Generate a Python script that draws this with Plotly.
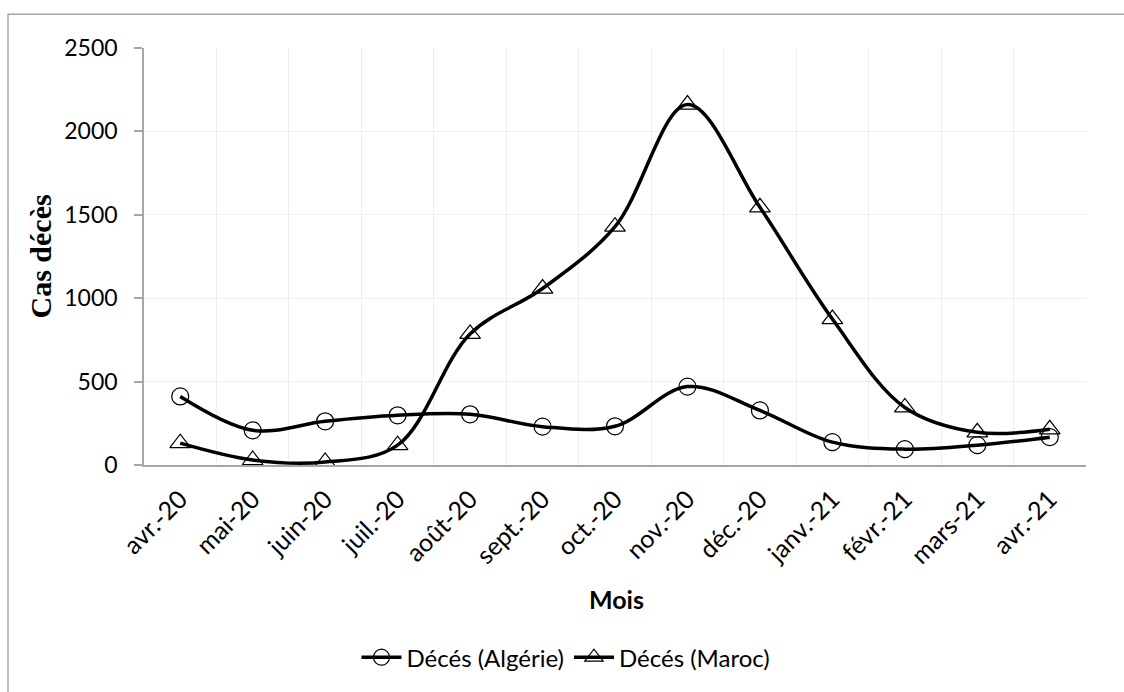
import plotly.graph_objects as go

# Monthly deaths, April 2020 - April 2021
mois = ["avr.-20", "mai-20", "juin-20", "juil.-20", "août-20", "sept.-20", "oct.-20",
        "nov.-20", "déc.-20", "janv.-21", "févr.-21", "mars-21", "avr.-21"]
deces_algerie = [411, 208, 262, 298, 304, 230, 232, 470, 327, 137, 95, 119, 167]
deces_maroc = [131, 30, 18, 119, 786, 1058, 1429, 2161, 1545, 875, 345, 196, 214]
y_ticks = [0, 500, 1000, 1500, 2000, 2500]

W, H = 1124, 692
L, R, T, B = 144, 38, 48, 224
pw, ph = W - L - R, H - T - B

def px_x(p):
    return (p - L) / pw

def px_y(p):
    return (H - B - p) / ph

pos = list(range(len(mois)))
font_sans = "Lato, 'Liberation Sans', sans-serif"

fig = go.Figure()
fig.add_trace(go.Scatter(
    x=pos, y=deces_algerie, name="Décés (Algérie)", mode="lines+markers",
    line=dict(color="black", width=3.5, shape="spline", smoothing=1.0),
    marker=dict(symbol="circle-open", size=17, color="black", line=dict(width=1.2, color="black")),
))
fig.add_trace(go.Scatter(
    x=pos, y=deces_maroc, name="Décés (Maroc)", mode="lines+markers",
    line=dict(color="black", width=3.5, shape="spline", smoothing=1.0),
    marker=dict(symbol="triangle-up-open", size=18, color="black", line=dict(width=1.2, color="black")),
))

fig.update_layout(
    width=W, height=H,
    margin=dict(l=L, r=R, t=T, b=B),
    paper_bgcolor="white", plot_bgcolor="white",
    font=dict(family=font_sans, size=22, color="black"),
    showlegend=True,
    legend=dict(orientation="h", x=px_x(566), y=px_y(662), xanchor="center", yanchor="middle",
                font=dict(family=font_sans, size=24, color="black"), itemwidth=40),
    xaxis=dict(
        range=[-0.5, len(mois) - 0.5], tickmode="array", tickvals=pos, ticktext=mois,
        tickangle=-45, showgrid=False, zeroline=False, ticks="",
        showline=True, linecolor="#a6a6a6", linewidth=1.5,
        tickfont=dict(family=font_sans, size=25, color="black"),
        ticklabelstandoff=8,
        minor=dict(tickvals=[i - 0.5 for i in range(len(mois) + 1)], showgrid=True,
                   gridcolor="#efefef", gridwidth=1.2, ticks=""),
    ),
    yaxis=dict(
        range=[0, 2500], tickmode="array", tickvals=y_ticks,
        showgrid=True, gridcolor="#efefef", gridwidth=1.2, zeroline=False,
        showline=True, linecolor="#a6a6a6", linewidth=1.5,
        ticks="outside", ticklen=8, tickcolor="#a6a6a6", tickwidth=1.5,
        tickfont=dict(family=font_sans, size=23, color="black"),
        ticklabelstandoff=12,
    ),
    annotations=[
        dict(text="<b>Cas décès</b>", xref="paper", yref="paper", x=px_x(40), y=px_y(258),
             textangle=-90, showarrow=False, xanchor="center", yanchor="middle",
             font=dict(family="'Liberation Serif', 'Times New Roman', serif", size=30, color="black")),
        dict(text="<b>Mois</b>", xref="paper", yref="paper", x=px_x(616), y=px_y(603),
             showarrow=False, xanchor="center", yanchor="middle",
             font=dict(family=font_sans, size=25, color="black")),
    ],
    shapes=[
        dict(type="rect", xref="paper", yref="paper",
             x0=px_x(8), y0=px_y(720), x1=px_x(1140), y1=px_y(14),
             line=dict(color="#a6a6a6", width=1.5), fillcolor="rgba(0,0,0,0)", layer="below"),
    ],
)

fig.write_html("out.html")
